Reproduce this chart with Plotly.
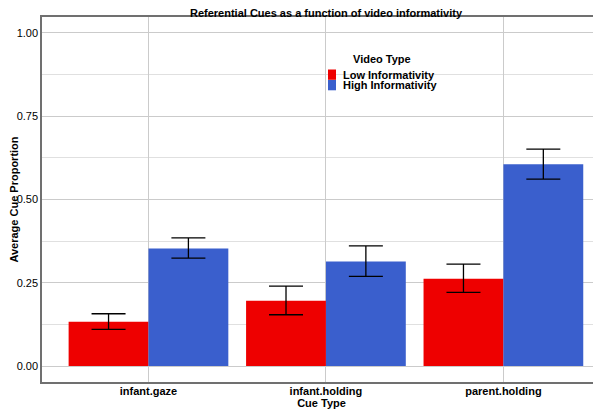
import plotly.graph_objects as go

categories = ["infant.gaze", "infant.holding", "parent.holding"]
series_names = ["Low Informativity", "High Informativity"]
series_colors = ["#EE0000", "#3A5FCD"]
low_mean = [0.133, 0.196, 0.262]
low_upper = [0.157, 0.240, 0.306]
low_lower = [0.110, 0.154, 0.221]
high_mean = [0.353, 0.314, 0.606]
high_upper = [0.385, 0.361, 0.651]
high_lower = [0.324, 0.269, 0.561]
y_ticks = [0.0, 0.25, 0.5, 0.75, 1.0]

means = [low_mean, high_mean]
uppers = [low_upper, high_upper]
lowers = [low_lower, high_lower]

FONT = "Liberation Sans, Arial, sans-serif"
# page body has an 8px margin, so the figure is offset by (8, 8) in the window
OFF = 8
W, H = 601 - OFF, 409 - OFF
# plot area in window pixels: x 42..601, y 17..382
ML, MR, MT, MB = 42 - OFF, 0, 17 - OFF, 409 - 382
PW, PH = W - ML - MR, H - MT - MB

fig = go.Figure()
for name, col, m, u, l in zip(series_names, series_colors, means, uppers, lowers):
    fig.add_trace(go.Bar(
        x=categories, y=m, name=name, marker=dict(color=col, line=dict(width=0)),
        error_y=dict(type="data", symmetric=False,
                     array=[a - b for a, b in zip(u, m)],
                     arrayminus=[b - c for b, c in zip(m, l)],
                     color="black", thickness=1.3, width=17),
        showlegend=False,
    ))

def px_to_paper(px, py):
    # px, py are window pixel coordinates
    return (px - OFF - ML) / PW, (H - MB - (py - OFF)) / PH

# custom compact legend
shapes = []
annotations = []
tx, ty = px_to_paper(382, 59)
annotations.append(dict(text="<b>Video Type</b>", x=tx, y=ty, xref="paper", yref="paper",
                        showarrow=False, xanchor="center", yanchor="middle",
                        font=dict(size=11, color="black", family=FONT)))
for i, (name, col) in enumerate(zip(series_names, series_colors)):
    top = 69.5 + i * 10.5
    x0, y1 = px_to_paper(328, top)
    x1, y0 = px_to_paper(336, top + 10.3)
    shapes.append(dict(type="rect", xref="paper", yref="paper", x0=x0, x1=x1, y0=y0, y1=y1,
                       fillcolor=col, line=dict(width=0)))
    lx, ly = px_to_paper(341, top + 5.2)
    annotations.append(dict(text="<b>%s</b>" % name, x=lx, y=ly, xref="paper", yref="paper",
                            showarrow=False, xanchor="left", yanchor="middle",
                            font=dict(size=11, color="black", family=FONT)))

fig.update_layout(
    width=W, height=H,
    margin=dict(l=ML, r=MR, t=MT, b=MB),
    paper_bgcolor="white", plot_bgcolor="white",
    barmode="group", bargap=0.1, bargroupgap=0,
    font=dict(family=FONT, size=11, color="black"),
    title=dict(text="<b>Referential Cues as a function of video informativity</b>",
               x=(326 - OFF - ML) / PW, xref="paper", xanchor="center",
               y=1 - (13 - OFF) / H, yref="container", yanchor="middle",
               font=dict(size=11, color="black", family=FONT)),
    xaxis=dict(range=[-0.6, 2.55], showgrid=True, gridcolor="#cbcbcb", gridwidth=1.2,
               showline=True, mirror=True, linecolor="#707070", linewidth=1.5,
               ticks="", tickfont=dict(size=11, color="black", family=FONT),
               tickprefix="<b>", ticksuffix="</b>", ticklabelstandoff=-2,
               title=dict(text="<b>Cue Type</b>", standoff=0, font=dict(size=11, color="black")),
               automargin=False, zeroline=False),
    yaxis=dict(range=[-0.048, 1.048], tickvals=y_ticks, tickformat=".2f",
               tickprefix="<b>", ticksuffix="</b>",
               showgrid=True, gridcolor="#cbcbcb", gridwidth=1.2,
               minor=dict(dtick=0.125, tick0=0, showgrid=True, gridcolor="#e0e0e0", gridwidth=1),
               showline=True, mirror=False, linecolor="#707070", linewidth=1.5,
               ticks="", tickfont=dict(size=11, color="black", family=FONT),
               title=dict(text="<b>Average Cue Proportion</b>", standoff=3, font=dict(size=11, color="black")),
               automargin=False, zeroline=False),
    shapes=shapes, annotations=annotations,
)

fig.write_html("out.html")
